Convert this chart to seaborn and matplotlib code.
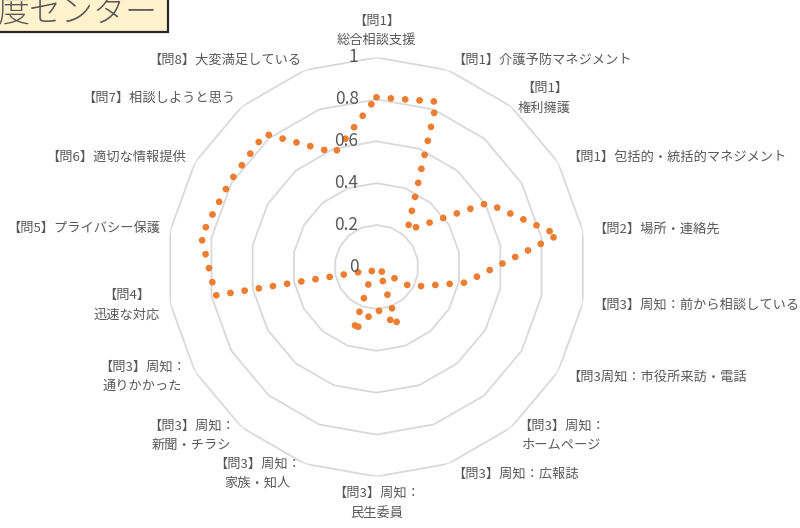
import numpy as np
import pandas as pd
import matplotlib
matplotlib.use("Agg")
import matplotlib.pyplot as plt
from matplotlib.transforms import offset_copy
from matplotlib.patches import Rectangle
import seaborn as sns

# Survey items around the radar (clockwise from the top)
categories = [
    "【問1】\n総合相談支援",
    "【問1】介護予防マネジメント",
    "【問1】\n権利擁護",
    "【問1】包括的・統括的マネジメント",
    "【問2】場所・連絡先",
    "【問3】周知：前から相談している",
    "【問3周知：市役所来訪・電話",
    "【問3】周知：\nホームページ",
    "【問3】周知：広報誌",
    "【問3】周知：\n民生委員",
    "【問3】周知：\n家族・知人",
    "【問3】周知：\n新聞・チラシ",
    "【問3】周知：\n通りかかった",
    "【問4】\n迅速な対応",
    "【問5】プライバシー保護",
    "【問6】適切な情報提供",
    "【問7】相談しようと思う",
    "【問8】大変満足している",
]
scores = [0.81, 0.84, 0.23, 0.61, 0.88, 0.43, 0.19, 0.02, 0.30,
          0.20, 0.33, 0.03, 0.03, 0.78, 0.85, 0.81, 0.83, 0.58]
ring_levels = [0.0, 0.2, 0.4, 0.6, 0.8, 1.0]
ring_labels = ["0", "0.2", "0.4", "0.6", "0.8", "1"]
title_text = "度センター"

sns.set_theme(style="white")
plt.rcParams["font.family"] = ["Noto Sans CJK JP", "DejaVu Sans"]

W, H = 800, 528
fig = plt.figure(figsize=(W / 100, H / 100), dpi=100)
fig.patch.set_facecolor("white")

cx, cy, R = 376.5, 267.0, 209.5
ax = fig.add_axes([(cx - R) / W, (H - cy - R) / H, 2 * R / W, 2 * R / H],
                  projection="polar")
ax.set_theta_zero_location("N")
ax.set_theta_direction(-1)
ax.set_facecolor("none")

n = len(categories)
theta = np.arange(n) * 2 * np.pi / n
theta_closed = np.append(theta, 2 * np.pi)

grey = "#595959"

# polygonal rings
for lvl in ring_levels[1:]:
    ax.plot(theta_closed, [lvl] * (n + 1), color="#D9D9D9", lw=1.3, zorder=1)

df = pd.DataFrame({"theta": theta_closed, "score": scores + [scores[0]]})
sns.lineplot(data=df, x="theta", y="score", sort=False, estimator=None, ax=ax,
             color="#ED7D31", lw=4.9, linestyle=(0, (0.01, 2.1)),
             dash_capstyle="round", zorder=3)

ax.set_ylim(0, 1)
ax.grid(False)
ax.spines["polar"].set_visible(False)
ax.set_xticks([])
ax.set_yticks([])
ax.set_xlabel("")
ax.set_ylabel("")

# ring value labels along the top axis
tick_tr = offset_copy(ax.transData, fig=fig, x=-18, y=0, units="dots")
for lvl, lab in zip(ring_levels, ring_labels):
    ax.text(0, lvl, lab, transform=tick_tr, ha="right", va="center",
            fontsize=12.5, color=grey, zorder=4)

# category labels
for t, lab in zip(theta, categories):
    s, c = np.sin(t), np.cos(t)
    ha = "center" if abs(s) < 1e-6 else ("left" if s > 0 else "right")
    if abs(s) < 1e-6:
        va = "bottom" if c > 0 else "top"
    else:
        va = "center"
    ax.text(t, 1.05, lab, ha=ha, va=va, fontsize=9.5, color=grey,
            linespacing=1.65, multialignment="center", clip_on=False)

# title box in the top-left corner
fig.patches.append(Rectangle((-0.05, 1 - 32 / H), 0.05 + 168 / W, 0.2,
                             transform=fig.transFigure, facecolor="#FFF2CC",
                             edgecolor="#262626", lw=1.6, zorder=5))
fig.text(158 / W, 1 - 13 / H, title_text, ha="right", va="center",
         fontsize=23, fontweight="light", color=grey, zorder=6)

fig.savefig("out.png", dpi=100)
